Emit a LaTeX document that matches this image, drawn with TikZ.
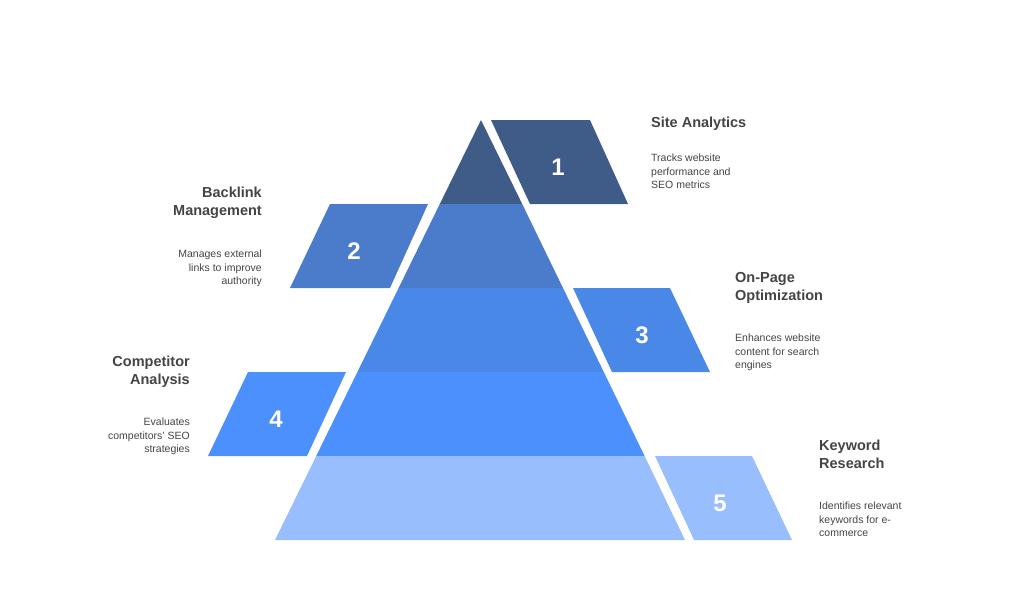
\documentclass[tikz,border=0pt]{standalone}
\usepackage{fontspec}
\setmainfont{Liberation Sans}
\definecolor{cA}{HTML}{3F5B88}
\definecolor{cB}{HTML}{4A7CCB}
\definecolor{cC}{HTML}{4A88E8}
\definecolor{cD}{HTML}{4C90FE}
\definecolor{cE}{HTML}{99BEFE}
\definecolor{txt}{HTML}{444444}
\tikzset{
 num/.style={text=white,font=\fontsize{24}{24}\selectfont\bfseries},
 ttl/.style={text=txt,font=\fontsize{14.5}{18}\selectfont\bfseries,inner sep=0pt},
 dsc/.style={text=txt,font=\fontsize{10.5}{13.5}\selectfont,inner sep=0pt}
}
\begin{document}
\begin{tikzpicture}[x=1pt,y=-1pt]
\useasboundingbox (0,0) rectangle (1010,613);
% pyramid levels
\fill[cA] (481,120) -- (522.2,204) -- (439.8,204) -- cycle;
\fill[cB] (439.8,204) -- (522.2,204) -- (563,288) -- (398.6,288) -- cycle;
\fill[cC] (398.6,288) -- (563,288) -- (603.8,372) -- (357.4,372) -- cycle;
\fill[cD] (357.4,372) -- (603.8,372) -- (644.6,456) -- (316.2,456) -- cycle;
\fill[cE] (316.2,456) -- (644.6,456) -- (685,540) -- (275,540) -- cycle;
% parallelograms
\fill[cA] (491,120) -- (590,120) -- (628,204) -- (530,204) -- cycle;
\fill[cB] (330,204) -- (428,204) -- (390,288) -- (290,288) -- cycle;
\fill[cC] (573,288) -- (670,288) -- (710,372) -- (612,372) -- cycle;
\fill[cD] (248,372) -- (346,372) -- (307,456) -- (208,456) -- cycle;
\fill[cE] (655,456) -- (752,456) -- (792,540) -- (694,540) -- cycle;
\node[num] (n1) at (558,167) {1};
\node[num] (n2) at (354,251) {2};
\node[num] (n3) at (642,335) {3};
\node[num] (n4) at (276,419) {4};
\node[num] (n5) at (720,503) {5};
% texts
\node[ttl,anchor=north west,align=left] (t1) at (651,117) {Site Analytics};
\node[dsc,anchor=north west,align=left] (d1) at (651,154) {Tracks website\\performance and\\SEO metrics};
\node[ttl,anchor=north east,align=right] (t2) at (262,187) {Backlink\\Management};
\node[dsc,anchor=north east,align=right] (d2) at (262,250) {Manages external\\links to improve\\authority};
\node[ttl,anchor=north west,align=left] (t3) at (735,272) {On-Page\\Optimization};
\node[dsc,anchor=north west,align=left] (d3) at (735,334) {Enhances website\\content for search\\engines};
\node[ttl,anchor=north east,align=right] (t4) at (190,356) {Competitor\\Analysis};
\node[dsc,anchor=north east,align=right] (d4) at (190,418) {Evaluates\\competitors' SEO\\strategies};
\node[ttl,anchor=north west,align=left] (t5) at (819,440) {Keyword\\Research};
\node[dsc,anchor=north west,align=left] (d5) at (819,502) {Identifies relevant\\keywords for e-\\commerce};
\end{tikzpicture}
\end{document}
